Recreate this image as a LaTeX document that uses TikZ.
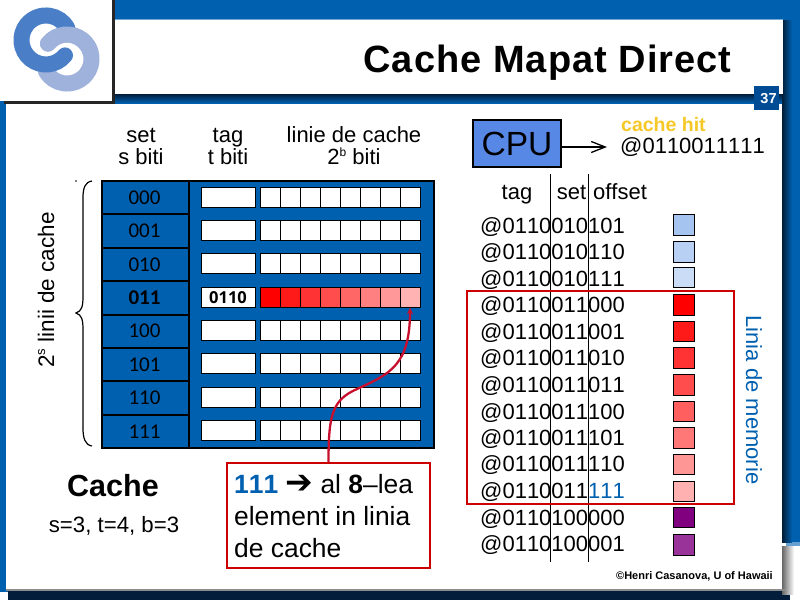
\documentclass[tikz,border=0pt]{standalone}
\usepackage{fontspec}
\setmainfont[Kerning=Off]{Liberation Sans}
\newfontfamily\titlefont[LetterSpace=2.7,Kerning=Off]{Liberation Sans}
\newfontfamily\rowfont{Carlito}
\newfontfamily\tagfont{Open Sans}
\newfontfamily\symfont{DejaVu Sans}
\usetikzlibrary{calc,arrows.meta}

\definecolor{slideblue}{RGB}{0,96,176}
\definecolor{numblue}{RGB}{0,76,148}
\definecolor{shadowblue}{RGB}{2,28,60}
\definecolor{boxred}{RGB}{204,0,0}
\definecolor{arrowred}{RGB}{200,16,46}
\definecolor{hityellow}{RGB}{245,200,40}
\definecolor{cpublue}{RGB}{88,136,230}
\definecolor{ringdark}{RGB}{74,126,199}
\definecolor{ringlight}{RGB}{159,178,220}

\newcommand{\fsize}[1]{\fontsize{#1}{#1}\selectfont}

\tikzset{
	coltitle/.style={inner sep=0pt, font=\fsize{22}, align=center},
	rowlabel/.style={inner sep=0pt, font=\rowfont\fsize{21}},
	address/.style={inner sep=0pt, anchor=west, yshift=-1pt, font=\fsize{22}},
	fieldname/.style={inner sep=0pt, anchor=base, font=\fsize{22}},
	calloutline/.style={inner sep=0pt, anchor=west, font=\fsize{26.4}},
	whitecell/.style={fill=white, draw=black, line width=0.8pt},
	redbit/.style={draw=black, line width=0.8pt, inner sep=0pt, minimum width=20pt, minimum height=20pt},
	swatch/.style={draw=black, line width=0.9pt},
	redbox/.style={draw=boxred, line width=2pt}
}

\begin{document}
\begin{tikzpicture}[x=1pt,y=-1pt]
	\useasboundingbox (0,0) rectangle (800,600);
	
	%slide background
	\fill[white] (0,0) rectangle (800,600);
	\fill[slideblue] (0,0) rectangle (800,542);
	\fill[slideblue!60!white] (786,542) rectangle (800,546);
	\fill[slideblue] (0,542) rectangle (8,592);
	\fill[shadowblue] (8,590) rectangle (790,600);
	\shade[left color=black!70!slideblue, right color=slideblue] (782,20) rectangle (792,542);
	\shade[left color=black!60, right color=white] (782,546) rectangle (794,594);
	
	%title band
	\shade[top color=shadowblue, bottom color=slideblue] (112,94) rectangle (782,103);
	\fill[white] (112,20) rectangle (783,94);
	\fill[slideblue!55!white] (112,19) rectangle (783,20);
	\node[inner sep=0pt, font=\titlefont\bfseries\fsize{38}] (title) at (547.5,63) {Cache Mapat Direct};
	
	%panel
	\fill[white] (6,104) rectangle (782,589);
	\fill[black!45] (6,589) rectangle (786,591);
	
	%logo
	\fill[black!85] (4,100) rectangle (115,104);
	\fill[black!85] (112,0) rectangle (115,104);
	\fill[white] (0,0) rectangle (112,101);
	\draw[ringlight, line width=16pt, line cap=round] (48,43.6) arc[start angle=141, end angle=-149, radius=24.5pt];
	\draw[ringdark, line width=16pt, line cap=round] (65,55.4) arc[start angle=-39, end angle=-330, radius=24.5pt];
	\draw[ringlight, line width=16pt, line cap=round] (48,43.6) arc[start angle=141, end angle=20, radius=24.5pt];
	
	%page number
	\fill[numblue] (754,86) rectangle (779,110);
	\node[inner sep=0pt, text=white, font=\bfseries\fsize{14.5}] (pagenum) at (768.5,99) {37};
	
	%column titles
	\node[coltitle] (settitle) at (141,146) {set\\s biti};
	\node[coltitle] (tagtitle) at (228,146) {tag\\t biti};
	\node[coltitle] (linetitle) at (354,146) {linie de cache\\2\raisebox{0.4em}{\fsize{12}b} biti};
	
	%brace
	\fill[black] (76,181) circle (0.8pt);
	\draw[line width=1.2pt] (92,181) .. controls (85,182) and (83,188) .. (83,198) -- (83,296) .. controls (83,306) and (82,311) .. (76,313) .. controls (82,315) and (83,320) .. (83,330) -- (83,428) .. controls (83,438) and (85,445) .. (92,446);
	\node[inner sep=0pt, rotate=90, font=\fsize{22.5}] (linecount) at (46,290) {2\raisebox{0.4em}{\fsize{13}s} linii de cache};
	
	%cache outline
	\filldraw[fill=slideblue, draw=black, line width=2pt] (102,181) rectangle (434,448);
	\draw[line width=2pt] (189,181) -- (189,448);
	\draw[line width=2pt] (102,214.4) -- (189,214.4);
	\draw[line width=2pt] (102,247.8) -- (189,247.8);
	\draw[line width=2pt] (102,281.2) -- (189,281.2);
	\draw[line width=2pt] (102,314.6) -- (189,314.6);
	\draw[line width=2pt] (102,348) -- (189,348);
	\draw[line width=2pt] (102,381.4) -- (189,381.4);
	\draw[line width=2pt] (102,414.8) -- (189,414.8);
	
	%sets
	\node[rowlabel] (set0) at (144.5,198) {000};
	\node[rowlabel] (set1) at (144.5,231) {001};
	\node[rowlabel] (set2) at (144.5,264.5) {010};
	\node[rowlabel, font=\rowfont\bfseries\fsize{21}] (set3) at (144.5,298) {011};
	\node[rowlabel] (set4) at (144.5,331) {100};
	\node[rowlabel] (set5) at (144.5,365) {101};
	\node[rowlabel] (set6) at (144.5,398) {110};
	\node[rowlabel] (set7) at (144.5,431.5) {111};
	
	%tags
	\filldraw[whitecell] (201,187) rectangle (255,207);
	\filldraw[whitecell] (201,220) rectangle (255,240);
	\filldraw[whitecell] (201,253) rectangle (255,273);
	\filldraw[whitecell] (201,287) rectangle (255,307);
	\filldraw[whitecell] (201,320) rectangle (255,340);
	\filldraw[whitecell] (201,353) rectangle (255,373);
	\filldraw[whitecell] (201,387) rectangle (255,407);
	\filldraw[whitecell] (201,420) rectangle (255,440);
	\node[inner sep=0pt, font=\tagfont\bfseries\fsize{16.5}] (tag3) at (228,297.5) {0110};
	
	%bits
	\filldraw[whitecell, xstep=20, ystep=1000] (260,187) grid (420,207) rectangle (260,187);
	\filldraw[whitecell, xstep=20, ystep=1000] (260,220) grid (420,240) rectangle (260,220);
	\filldraw[whitecell, xstep=20, ystep=1000] (260,253) grid (420,273) rectangle (260,253);
	\filldraw[whitecell, xstep=20, ystep=1000] (260,320) grid (420,340) rectangle (260,320);
	\filldraw[whitecell, xstep=20, ystep=1000] (260,353) grid (420,373) rectangle (260,353);
	\filldraw[whitecell, xstep=20, ystep=1000] (260,387) grid (420,407) rectangle (260,387);
	\filldraw[whitecell, xstep=20, ystep=1000] (260,420) grid (420,440) rectangle (260,420);
	
	%cache line
	\node[redbit, fill={rgb,255:red,255;green,0;blue,0}] (bit1) at (270,297) {};
	\node[redbit, fill={rgb,255:red,255;green,26;blue,26}] (bit2) at (290,297) {};
	\node[redbit, fill={rgb,255:red,255;green,51;blue,51}] (bit3) at (310,297) {};
	\node[redbit, fill={rgb,255:red,255;green,77;blue,77}] (bit4) at (330,297) {};
	\node[redbit, fill={rgb,255:red,255;green,102;blue,102}] (bit5) at (350,297) {};
	\node[redbit, fill={rgb,255:red,255;green,128;blue,128}] (bit6) at (370,297) {};
	\node[redbit, fill={rgb,255:red,255;green,153;blue,153}] (bit7) at (390,297) {};
	\node[redbit, fill={rgb,255:red,255;green,179;blue,179}] (bit8) at (410,297) {};
	
	%cache caption
	\node[inner sep=0pt, font=\bfseries\fsize{30.5}] (cachename) at (113,486) {Cache};
	\node[inner sep=0pt, font=\fsize{22.2}] (params) at (114,526) {s=3, t=4, b=3};
	
	%callout
	\node[redbox, fill=white, inner sep=0pt, minimum width=203pt, minimum height=105pt] (callout) at (328.5,515.5) {};
	\node[calloutline] (line1) at (234,484) {\textcolor{slideblue}{\textbf{111}} {\symfont\fsize{33}\textbf{➔}} al \textbf{8}–lea};
	\node[calloutline] (line2) at (234,516) {element in linia};
	\node[calloutline] (line3) at (234,548) {de cache};
	\draw[arrowred, line width=2.3pt, -{Stealth[length=7pt,width=6pt]}] (callout.north) .. controls (328.5,415) and (332,400) .. (357,389) .. controls (390,374) and (410,365) .. (bit8.south);
	
	%cpu
	\node[draw=black, line width=1.2pt, fill=cpublue, inner sep=0pt, minimum width=88pt, minimum height=47pt, font=\fsize{33.5}] (cpu) at (517,143.5) {CPU};
	\node[inner sep=0pt, anchor=west, font=\bfseries\fsize{19.5}, text=hityellow] (hit) at (621,125) {cache hit};
	\node[address] (addr) at (620,146) {@0110011111};
	\draw[line width=1.3pt, shorten >=13pt, -{Straight Barb[length=14pt,width=11pt]}] (cpu.east |- addr.west) -- (addr.west);
	
	%address fields
	\node[fieldname] (tagfield) at (517,199) {tag};
	\node[fieldname] (setfield) at (571.5,199) {set};
	\node[fieldname] (offsetfield) at (620,199) {offset};
	
	%addresses
	\node[address] (a0) at (480,226) {@0110010101};
	\node[address] (a1) at (480,252.5) {@0110010110};
	\node[address] (a2) at (480,279) {@0110010111};
	\node[address] (a3) at (480,305) {@0110011000};
	\node[address] (a4) at (480,332) {@0110011001};
	\node[address] (a5) at (480,358.5) {@0110011010};
	\node[address] (a6) at (480,385) {@0110011011};
	\node[address] (a7) at (480,412) {@0110011100};
	\node[address] (a8) at (480,438) {@0110011101};
	\node[address] (a9) at (480,464.5) {@0110011110};
	\node[address] (a10) at (480,491) {@0110011\textcolor{slideblue}{111}};
	\node[address] (a11) at (480,518) {@0110100000};
	\node[address] (a12) at (480,544.5) {@0110100001};
	
	%field separators
	\draw[line width=0.8pt] (550.3,174) -- (550.3,562);
	\draw[line width=0.8pt] (588.3,174) -- (588.3,562);
	
	%memory bytes
	\filldraw[swatch, fill={rgb,255:red,166;green,196;blue,240}] (673,214) rectangle (694,235);
	\filldraw[swatch, fill={rgb,255:red,184;green,208;blue,244}] (673,241) rectangle (694,262);
	\filldraw[swatch, fill={rgb,255:red,203;green,220;blue,246}] (673,267) rectangle (694,287);
	\filldraw[swatch, fill={rgb,255:red,255;green,0;blue,0}] (673,294) rectangle (694,315);
	\filldraw[swatch, fill={rgb,255:red,255;green,26;blue,26}] (673,321) rectangle (694,341);
	\filldraw[swatch, fill={rgb,255:red,255;green,51;blue,51}] (673,347) rectangle (694,368);
	\filldraw[swatch, fill={rgb,255:red,255;green,77;blue,77}] (673,374) rectangle (694,395);
	\filldraw[swatch, fill={rgb,255:red,255;green,95;blue,95}] (673,401) rectangle (694,421);
	\filldraw[swatch, fill={rgb,255:red,255;green,120;blue,120}] (673,427) rectangle (694,448);
	\filldraw[swatch, fill={rgb,255:red,255;green,150;blue,150}] (673,454) rectangle (694,474);
	\filldraw[swatch, fill={rgb,255:red,255;green,176;blue,176}] (673,481) rectangle (694,501);
	\filldraw[swatch, fill={rgb,255:red,128;green,0;blue,128}] (673,507) rectangle (694,527);
	\filldraw[swatch, fill={rgb,255:red,153;green,51;blue,153}] (673,534) rectangle (694,555);
	
	%memory line
	\draw[redbox] (467,291) rectangle (734,504);
	\node[inner sep=0pt, rotate=-90, text=slideblue, font=\fsize{22}] (memline) at (754,400) {Linia de memorie};
	
	%credit
	\node[inner sep=0pt, anchor=east, font=\bfseries\fsize{11}] (credit) at (773,576) {©Henri Casanova, U of Hawaii};
\end{tikzpicture}
\end{document}
